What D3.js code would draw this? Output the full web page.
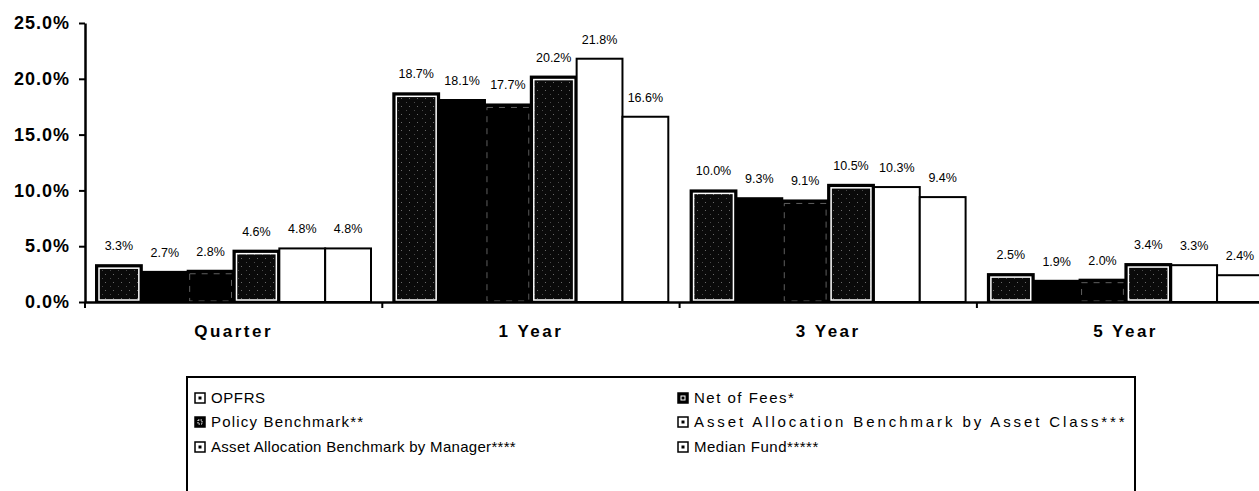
<!DOCTYPE html>
<html>
<head>
<meta charset="utf-8">
<script src="https://cdn.jsdelivr.net/npm/d3@7"></script>
<style>
  body { margin: 0; background: #fff; }
  text { font-family: Arial, "Liberation Sans", sans-serif; }
</style>
</head>
<body>
<div id="chart"></div>
<script>
var categories = ["Quarter", "1 Year", "3 Year", "5 Year"]
var seriesNames = ["OPFRS", "Net of Fees*", "Policy Benchmark**",
                   "Asset Allocation Benchmark by Asset Class***",
                   "Asset Allocation Benchmark by Manager****", "Median Fund*****"]
var opfrs = [3.3, 18.7, 10.0, 2.5]
var netOfFees = [2.7, 18.1, 9.3, 1.9]
var policyBenchmark = [2.8, 17.7, 9.1, 2.0]
var aaByAssetClass = [4.6, 20.2, 10.5, 3.4]
var aaByManager = [4.8, 21.8, 10.3, 3.3]
var medianFund = [4.8, 16.6, 9.4, 2.4]
var yTicks = [0, 5, 10, 15, 20, 25]

var allSeries = [opfrs, netOfFees, policyBenchmark, aaByAssetClass, aaByManager, medianFund]
// bar look per series: speckled dark w/ white inner edge, solid black, dashed black, white
var styles = ["speckle", "black", "dashed", "speckle", "white", "white"]
// legend text spacing differs a lot in the scan
var legendSpacing = [0.6, 1.5, 1.2, 2.9, 0.3, 0.5]

var width = 1259, height = 491

var svg = d3.select("#chart")
  .append("svg")
    .attr("width", width)
    .attr("height", height)

var defs = svg.append("defs")
var pat = defs.append("pattern")
  .attr("id", "speckle")
  .attr("width", 8).attr("height", 8)
  .attr("patternUnits", "userSpaceOnUse")
pat.append("rect").attr("width", 8).attr("height", 8).attr("fill", "#0a0a0a")
pat.append("rect").attr("x", 1).attr("y", 2).attr("width", 1).attr("height", 1).attr("fill", "#6a6a6a")
pat.append("rect").attr("x", 6).attr("y", 6).attr("width", 1).attr("height", 1).attr("fill", "#4a4a4a")

var y = d3.scaleLinear()
  .domain([0, 25])
  .range([302, 23])

var x = d3.scaleBand()
  .domain(categories)
  .range([85, 85 + 4 * 297.3])

var xs = d3.scaleBand()
  .domain(d3.range(seriesNames.length))
  .range([11, 286])

// bars
for (var s = 0; s < allSeries.length; s++) {
  var g = svg.append("g")
  var data = allSeries[s].map(function(v, i) { return {cat: categories[i], v: v} })
  var st = styles[s]
  var sIdx = s

  g.selectAll("rect.outer")
    .data(data)
    .enter().append("rect")
      .attr("class", "outer")
      .attr("x", function(d) { return x(d.cat) + xs(sIdx) })
      .attr("y", function(d) { return y(d.v) })
      .attr("width", xs.bandwidth())
      .attr("height", function(d) { return y(0) - y(d.v) })
      .attr("fill", st == "white" ? "#fff" : "#000")
      .attr("stroke", "#000")
      .attr("stroke-width", 2)

  if (st == "speckle") {
    g.selectAll("rect.inner")
      .data(data)
      .enter().append("rect")
        .attr("x", function(d) { return x(d.cat) + xs(sIdx) + 3 })
        .attr("y", function(d) { return y(d.v) + 3 })
        .attr("width", xs.bandwidth() - 6)
        .attr("height", function(d) { return y(0) - y(d.v) - 5 })
        .attr("fill", "url(#speckle)")
        .attr("stroke", "#fff")
        .attr("stroke-width", 1.5)
  }
  if (st == "dashed") {
    g.selectAll("rect.inner")
      .data(data)
      .enter().append("rect")
        .attr("x", function(d) { return x(d.cat) + xs(sIdx) + 2 })
        .attr("y", function(d) { return y(d.v) + 3 })
        .attr("width", xs.bandwidth() - 4)
        .attr("height", function(d) { return y(0) - y(d.v) - 4 })
        .attr("fill", "none")
        .attr("stroke", "#777")
        .attr("stroke-width", 0.8)
        .attr("stroke-dasharray", "6,6")
  }

  g.selectAll("text")
    .data(data)
    .enter().append("text")
      .attr("x", function(d) { return x(d.cat) + xs(sIdx) + xs.bandwidth() / 2 })
      .attr("y", function(d) { return y(d.v) - 15 })
      .attr("text-anchor", "middle")
      .style("font-size", "12.5px")
      .text(function(d) { return d.v.toFixed(1) + "%" })
}

// y axis
var yAxis = svg.append("g")
  .attr("transform", "translate(85,0)")
  .call(d3.axisLeft(y).tickValues(yTicks).tickSize(6).tickSizeOuter(0).tickPadding(9)
    .tickFormat(function(d) { return d.toFixed(1) + "%" }))
yAxis.select(".domain").attr("stroke-width", 2.5)
yAxis.selectAll(".tick line").attr("stroke-width", 2)
yAxis.selectAll("text")
  .style("font-size", "18px")
  .style("font-weight", "bold")
  .style("letter-spacing", "1px")
  .attr("fill", "#000")

// x axis
var xAxis = svg.append("g")
  .attr("transform", "translate(0,302)")
  .call(d3.axisBottom(x).tickSize(0).tickSizeOuter(0))
xAxis.select(".domain").attr("stroke-width", 2.5)
xAxis.selectAll("text")
  .attr("y", 23)
  .style("font-size", "17px")
  .style("font-weight", "bold")
  .style("letter-spacing", "2.5px")
  .attr("fill", "#000")

// boundary ticks between categories
svg.append("g")
  .selectAll("line")
  .data(categories)
  .enter().append("line")
    .attr("x1", function(d) { return x(d) })
    .attr("x2", function(d) { return x(d) })
    .attr("y1", 302)
    .attr("y2", 308)
    .attr("stroke", "#000")
    .attr("stroke-width", 2)

// legend
var legend = svg.append("g")
legend.append("rect")
  .attr("x", 187).attr("y", 377)
  .attr("width", 948).attr("height", 140)
  .attr("fill", "none")
  .attr("stroke", "#000")
  .attr("stroke-width", 2)

var colX = [195, 678]
var rowY = [398, 422, 447]
seriesNames.forEach(function(name, i) {
  var lx = colX[i % 2], ly = rowY[Math.floor(i / 2)]
  var st = styles[i]
  legend.append("rect")
    .attr("x", lx).attr("y", ly - 5)
    .attr("width", 10).attr("height", 10)
    .attr("fill", (st == "black" || st == "dashed") ? "#000" : "#fff")
    .attr("stroke", "#000")
    .attr("stroke-width", 1.5)
  if (st == "black" || st == "dashed") {
    legend.append("rect")
      .attr("x", lx + 3).attr("y", ly - 2)
      .attr("width", 4).attr("height", 4)
      .attr("fill", "none")
      .attr("stroke", "#fff")
      .attr("stroke-width", 1)
      .attr("stroke-dasharray", st == "dashed" ? "1.5,1" : null)
  } else {
    legend.append("rect")
      .attr("x", lx + 3.5).attr("y", ly - 1.5)
      .attr("width", 3).attr("height", 3)
      .attr("fill", "#000")
  }
  legend.append("text")
    .attr("x", lx + 16)
    .attr("y", ly)
    .attr("dy", ".35em")
    .style("font-size", "15px")
    .style("letter-spacing", legendSpacing[i] + "px")
    .text(name)
})
</script>
</body>
</html>
